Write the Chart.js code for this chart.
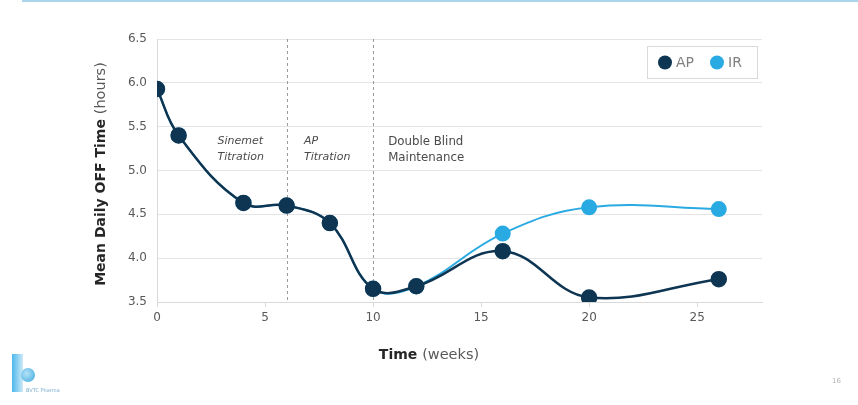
<!doctype html>
<html lang="en">
  <head>
    <meta charset="utf-8">
    <title>Mean Daily OFF Time</title>
    <style>
      * {
        margin: 0;
        padding: 0;
      }
      body {
        width: 858px;
        height: 405px;
        background: #fff;
        position: relative;
        overflow: hidden;
        font-family: "DejaVu Sans", sans-serif;
      }
      .topRule {
        position: absolute;
        left: 22px;
        right: 0;
        top: 0;
        height: 2px;
        background: #a9d6ea;
      }
      .chartBox {
        position: absolute;
        left: 0;
        top: 0;
      }
      .logoBar {
        position: absolute;
        left: 12px;
        top: 354px;
        width: 11px;
        height: 38px;
        background: linear-gradient(to right, #4cb8ec, #cdeaf8);
      }
      .logoBall {
        position: absolute;
        left: 21px;
        top: 368px;
        width: 14px;
        height: 14px;
        border-radius: 50%;
        background: radial-gradient(circle at 40% 40%, #b5e2f7, #3aa9e0);
      }
      .logoText {
        position: absolute;
        left: 26px;
        top: 387px;
        font-size: 5px;
        color: #7aaed0;
        white-space: nowrap;
      }
      .pageNo {
        position: absolute;
        left: 832px;
        top: 377px;
        font-size: 7px;
        color: #b5b5b5;
      }
    </style>
  </head>
  <body>
    <div class="topRule"></div>
    <div class="chartBox">
      <canvas id="myChart" width="858" height="405"></canvas>
    </div>
    <div class="logoBar"></div>
    <div class="logoBall"></div>
    <div class="logoText">BVTC Pharma</div>
    <div class="pageNo">16</div>

    <script src="https://cdn.jsdelivr.net/npm/chart.js/dist/chart.umd.min.js"></script>
    <script>
// data
const weeks = [0, 1, 4, 6, 8, 10, 12, 16, 20, 26];
const apHours = [5.93, 5.40, 4.63, 4.60, 4.40, 3.65, 3.68, 4.08, 3.55, 3.76];
const irHours = [5.93, 5.40, 4.63, 4.60, 4.40, 3.65, 3.68, 4.28, 4.58, 4.56];
const yTicks = [3.5, 4.0, 4.5, 5.0, 5.5, 6.0, 6.5];
const xTicks = [0, 5, 10, 15, 20, 25];
const phaseBreaks = [6, 10];
const phaseLabels = [
  ['Sinemet', 'Titration'],
  ['AP', 'Titration'],
  ['Double Blind', 'Maintenance']
];

const toPoints = (xs, ys) => xs.map((x, i) => ({ x: x, y: ys[i] }));

const FONT = '"DejaVu Sans", sans-serif';

// dashed phase lines, phase captions, axis titles, boxed legend
const slideDecor = {
  id: 'slideDecor',
  beforeDatasetsDraw(chart) {
    const { ctx, chartArea, scales } = chart;
    ctx.save();
    ctx.strokeStyle = '#9a9a9a';
    ctx.lineWidth = 1;
    ctx.setLineDash([3, 3]);
    phaseBreaks.forEach(w => {
      const px = Math.round(scales.x.getPixelForValue(w)) + 0.5;
      ctx.beginPath();
      ctx.moveTo(px, chartArea.top);
      ctx.lineTo(px, chartArea.bottom);
      ctx.stroke();
    });
    ctx.restore();
  },
  afterDraw(chart) {
    const { ctx, chartArea, scales } = chart;
    ctx.save();

    // phase captions
    const capX = [2.8, 6.8, 10.7];
    ctx.fillStyle = '#4a4a4a';
    ctx.textBaseline = 'middle';
    ctx.textAlign = 'left';
    phaseLabels.forEach((lines, i) => {
      ctx.font = i < 2 ? 'italic 11px ' + FONT : '11.8px ' + FONT;
      const px = scales.x.getPixelForValue(capX[i]);
      lines.forEach((t, j) => {
        const py = scales.y.getPixelForValue(5.33) + j * 16;
        ctx.fillText(t, px, py);
      });
    });

    // y axis title, rotated
    const boldY = 'Mean Daily OFF Time ';
    const normY = '(hours)';
    ctx.font = 'bold 14px ' + FONT;
    const wb = ctx.measureText(boldY).width;
    ctx.font = '14.5px ' + FONT;
    const wn = ctx.measureText(normY).width;
    ctx.translate(101, 174);
    ctx.rotate(-Math.PI / 2);
    ctx.font = 'bold 14px ' + FONT;
    ctx.fillStyle = '#262626';
    ctx.fillText(boldY, -(wb + wn) / 2, 0);
    ctx.font = '14.5px ' + FONT;
    ctx.fillStyle = '#595959';
    ctx.fillText(normY, -(wb + wn) / 2 + wb, 0);
    ctx.setTransform(1, 0, 0, 1, 0, 0);

    // x axis title
    const boldX = 'Time ';
    const normX = '(weeks)';
    ctx.font = 'bold 14px ' + FONT;
    const xb = ctx.measureText(boldX).width;
    ctx.font = '14.5px ' + FONT;
    const xn = ctx.measureText(normX).width;
    const x0 = 429 - (xb + xn) / 2;
    ctx.font = 'bold 14px ' + FONT;
    ctx.fillStyle = '#262626';
    ctx.fillText(boldX, x0, 355);
    ctx.font = '14.5px ' + FONT;
    ctx.fillStyle = '#595959';
    ctx.fillText(normX, x0 + xb, 355);

    // legend: one dot and label per dataset inside a thin frame
    ctx.strokeStyle = '#d9d9d9';
    ctx.lineWidth = 1;
    ctx.strokeRect(647.5, 46.5, 110, 32);
    ctx.font = '14px ' + FONT;
    const legendX = [665, 717];
    chart.data.datasets.forEach((ds, i) => {
      ctx.fillStyle = ds.backgroundColor;
      ctx.beginPath();
      ctx.arc(legendX[i], 62.5, 7, 0, Math.PI * 2);
      ctx.fill();
      ctx.fillStyle = '#808080';
      ctx.fillText(ds.label, legendX[i] + 11, 63);
    });
    ctx.restore();
  }
};

const data = {
  datasets: [{
    label: 'AP',
    data: toPoints(weeks, apHours),
    borderColor: '#0e3552',
    backgroundColor: '#0e3552',
    borderWidth: 2.5,
    pointRadius: 7,
    pointHoverRadius: 7,
    tension: 0.4
  }, {
    label: 'IR',
    data: toPoints(weeks, irHours),
    borderColor: '#2aaae2',
    backgroundColor: '#2aaae2',
    borderWidth: 2,
    pointRadius: 7,
    pointHoverRadius: 7,
    tension: 0.4
  }]
};

const config = {
  type: 'line',
  data,
  options: {
    responsive: false,
    animation: false,
    layout: {
      padding: { top: 39, right: 96, left: 0, bottom: 0 }
    },
    plugins: {
      tooltip: { enabled: false },
      legend: { display: false }
    },
    scales: {
      x: {
        type: 'linear',
        min: 0,
        max: 28,
        afterFit: s => { s.height = 103; },
        afterBuildTicks: s => { s.ticks = xTicks.map(v => ({ value: v })); },
        grid: {
          drawOnChartArea: false,
          drawTicks: true,
          tickLength: 5,
          color: '#d9d9d9'
        },
        border: { color: '#d9d9d9' },
        ticks: {
          padding: 4,
          color: '#595959',
          font: { family: FONT, size: 12 }
        }
      },
      y: {
        min: 3.5,
        max: 6.5,
        afterFit: s => { s.width = 157; },
        afterBuildTicks: s => { s.ticks = yTicks.map(v => ({ value: v })); },
        grid: {
          color: '#e4e4e4',
          drawTicks: false
        },
        border: { color: '#d9d9d9' },
        ticks: {
          padding: 10,
          color: '#595959',
          font: { family: FONT, size: 12 },
          callback: v => v.toFixed(1)
        }
      }
    }
  },
  plugins: [slideDecor]
};

const myChart = new Chart(document.getElementById('myChart'), config);
    </script>
  </body>
</html>
